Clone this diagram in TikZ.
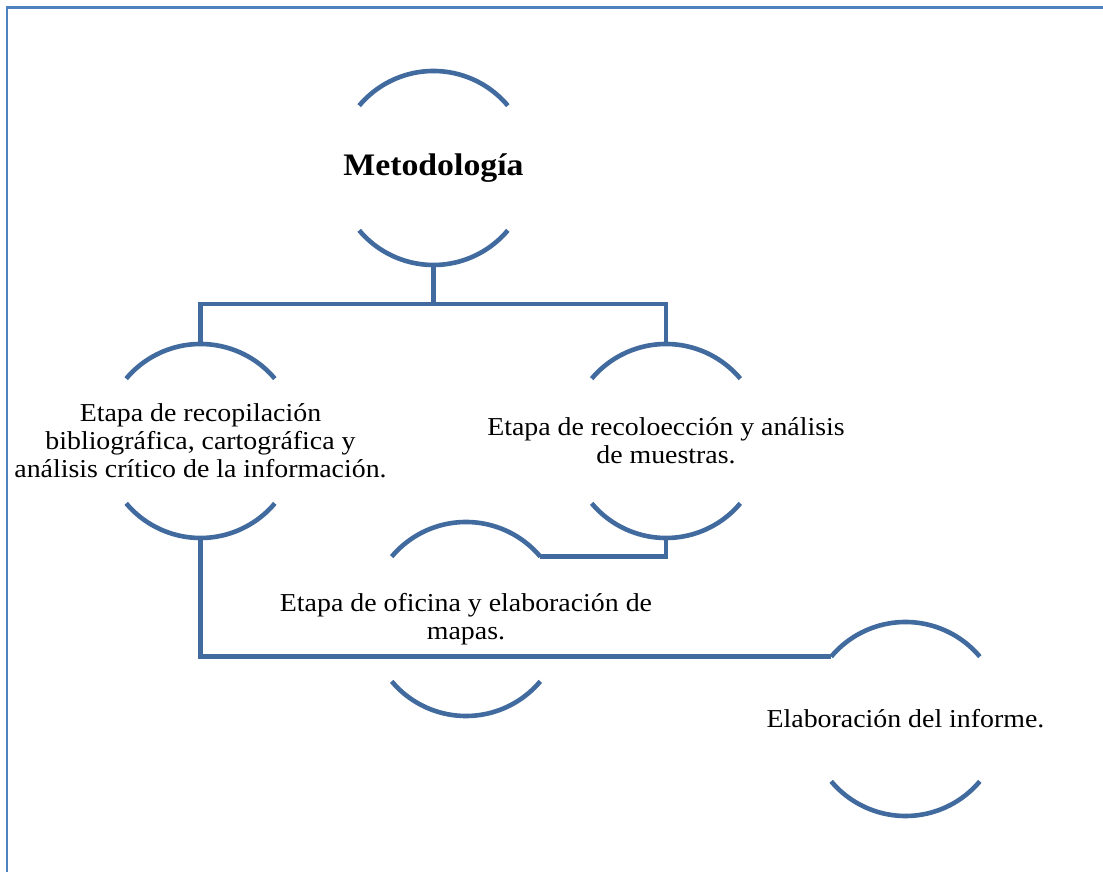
\documentclass[tikz,border=0pt]{standalone}
\usepackage{fontspec}
\setmainfont{Liberation Serif}[FakeStretch=1.08]
\definecolor{linkblue}{RGB}{65,106,158}
\definecolor{frameblue}{RGB}{79,129,189}
\tikzset{
  ring/.style={circle, minimum size=194pt, inner sep=0pt, outer sep=0pt},
  ringarc/.style={draw=linkblue, line width=4.6pt},
  conn/.style={draw=linkblue, line width=4.4pt},
  frameline/.style={draw=frameblue, line width=2.2pt},
  txt/.style={align=center, inner sep=0pt, font=\fontsize{25.8}{28}\selectfont},
  titletxt/.style={align=center, inner sep=0pt, font=\fontsize{31.3}{34}\selectfont\bfseries}
}
\begin{document}
\begin{tikzpicture}[x=1pt,y=1pt]
\useasboundingbox (0,0) rectangle (1103,872);
\fill[white] (0,0) rectangle (1103,872);
% page frame (top and left edges)
\coordinate (fbl) at (7,0);
\coordinate (ftl) at (7,864.5);
\coordinate (ftr) at (1103,864.5);
\draw[frameline] (fbl) -- (ftl) -- (ftr);

% ring nodes
\node[ring] (M) at (433.5,704) {};
\node[ring] (L) at (200.5,431) {};
\node[ring] (R) at (666,431) {};
\node[ring] (O) at (466,253) {};
\node[ring] (I) at (905.5,153) {};

% arcs
\foreach \n in {M,L,R,O,I}{
  \draw[ringarc] (\n.40) arc[start angle=40, end angle=140, radius=97pt];
  \draw[ringarc] (\n.220) arc[start angle=220, end angle=320, radius=97pt];
}

% texts
\node[titletxt] (Mt) at (M.center) {Metodología};
\node[txt] (Lt) at (L.center) {Etapa de recopilación\\bibliográfica, cartográfica y\\análisis crítico de la información.};
\node[txt] (Rt) at (R.center) {Etapa de recoloección y análisis\\de muestras.};
\node[txt] (Ot) at (O.center) {Etapa de oficina y elaboración de\\mapas.};
\node[txt] (It) at (I.center) {Elaboración del informe.};

% connectors
\coordinate (bus) at (0,568);
\draw[conn] (M.south) -- (M.south |- bus);
\draw[conn] (L.north) -- (L.north |- bus) -- (R.north |- bus) -- (R.north);
\draw[conn] (R.south) |- (O.40);
\draw[conn] (L.south) |- (I.140);
\end{tikzpicture}
\end{document}
